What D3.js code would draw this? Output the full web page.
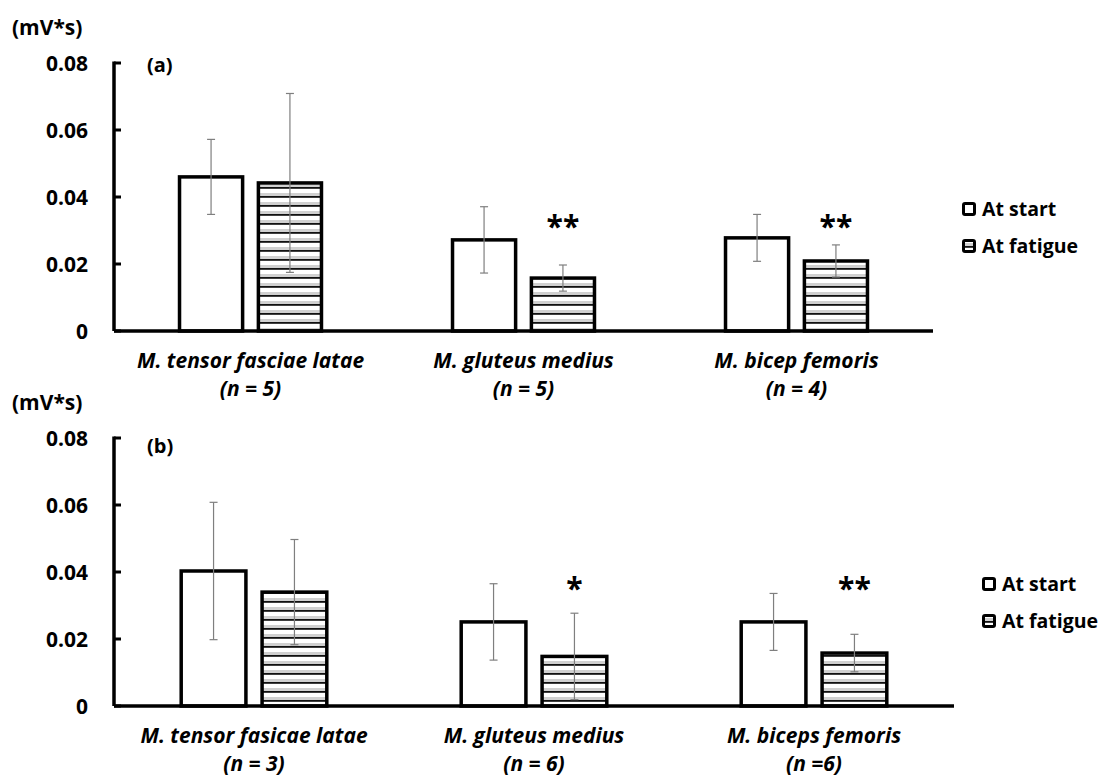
<!DOCTYPE html>
<html>
<head>
<meta charset="utf-8">
<script src="https://cdn.jsdelivr.net/npm/d3@7"></script>
<style>
  body { margin: 0; background: #fff; }
  svg text { font-family: "Open Sans", "Noto Sans", sans-serif; font-weight: bold; fill: #000; }
</style>
</head>
<body>
<div id="chart"></div>
<script>
// --- DATA ---
var seriesNames = ["At start", "At fatigue"];
var yTicks = [0, 0.02, 0.04, 0.06, 0.08];

// panel (a)
var categoriesA = ["M. tensor fasciae latae", "M. gluteus medius", "M. bicep femoris"];
var countsA = ["(n = 5)", "(n = 5)", "(n = 4)"];
var startA = [0.046, 0.0272, 0.0278];
var startSdA = [0.0112, 0.0099, 0.007];
var fatigueA = [0.0442, 0.0158, 0.0209];
var fatigueSdA = [0.0267, 0.0039, 0.0048];
var signifA = ["", "**", "**"];

// panel (b)
var categoriesB = ["M. tensor fasicae latae", "M. gluteus medius", "M. biceps femoris"];
var countsB = ["(n = 3)", "(n = 6)", "(n =6)"];
var startB = [0.0403, 0.0251, 0.0251];
var startSdB = [0.0205, 0.0114, 0.0085];
var fatigueB = [0.034, 0.0148, 0.0158];
var fatigueSdB = [0.0157, 0.0129, 0.0056];
var signifB = ["", "*", "**"];

// --- SETUP ---
var width = 1107, height = 778;
var svg = d3.select("#chart").append("svg")
  .attr("width", width)
  .attr("height", height);

// horizontal stripe pattern for the "fatigue" bars
var defs = svg.append("defs");
var pat = defs.append("pattern")
  .attr("id", "stripes")
  .attr("patternUnits", "userSpaceOnUse")
  .attr("width", 8).attr("height", 9);
pat.append("rect").attr("width", 8).attr("height", 9).attr("fill", "#fff");
pat.append("rect").attr("y", 4).attr("width", 8).attr("height", 3).attr("fill", "#d0d0d0");
pat.append("rect").attr("y", 7).attr("width", 8).attr("height", 1.8).attr("fill", "#111");

function drawPanel(opt) {
  var g = svg.append("g");

  var y = d3.scaleLinear().domain([0, 0.08]).range([opt.y0, opt.y1]);
  var x0 = d3.scaleBand().domain(opt.categories)
    .range([opt.xLeft, opt.xRight])
    .paddingInner(0.48).paddingOuter(0.24);
  var x1 = d3.scaleBand().domain(seriesNames)
    .range([0, x0.bandwidth()])
    .paddingInner(0.2);

  var rows = opt.categories.map(function(c, i) {
    return {
      cat: c, n: opt.counts[i], sig: opt.signif[i],
      vals: [
        { s: seriesNames[0], v: opt.start[i], sd: opt.startSd[i] },
        { s: seriesNames[1], v: opt.fatigue[i], sd: opt.fatigueSd[i] }
      ]
    };
  });

  // bars
  var groups = g.selectAll(".grp").data(rows).enter().append("g")
    .attr("class", "grp")
    .attr("transform", function(d) { return "translate(" + x0(d.cat) + ",0)"; });

  groups.selectAll("rect.bar").data(function(d) { return d.vals; }).enter().append("rect")
    .attr("class", "bar")
    .attr("x", function(d) { return x1(d.s); })
    .attr("y", function(d) { return y(d.v); })
    .attr("width", x1.bandwidth())
    .attr("height", function(d) { return y(0) - y(d.v); })
    .attr("fill", function(d, i) { return i === 0 ? "#fff" : "url(#stripes)"; })
    .attr("stroke", "#000")
    .attr("stroke-width", 3.5);

  // error bars
  var eb = groups.selectAll("g.err").data(function(d) { return d.vals; }).enter().append("g")
    .attr("class", "err")
    .attr("stroke", "#7f7f7f")
    .attr("stroke-width", 1.2);
  eb.append("line")
    .attr("x1", function(d) { return x1(d.s) + x1.bandwidth() / 2; })
    .attr("x2", function(d) { return x1(d.s) + x1.bandwidth() / 2; })
    .attr("y1", function(d) { return y(d.v + d.sd); })
    .attr("y2", function(d) { return y(d.v - d.sd); });
  [1, -1].forEach(function(sign) {
    eb.append("line")
      .attr("x1", function(d) { return x1(d.s) + x1.bandwidth() / 2 - 4; })
      .attr("x2", function(d) { return x1(d.s) + x1.bandwidth() / 2 + 4; })
      .attr("y1", function(d) { return y(d.v + sign * d.sd); })
      .attr("y2", function(d) { return y(d.v + sign * d.sd); });
  });

  // significance stars over the fatigue bar
  groups.append("text")
    .attr("x", x1(seriesNames[1]) + x1.bandwidth() / 2)
    .attr("y", y(opt.starLevel) + 17)
    .attr("text-anchor", "middle")
    .style("font-size", "30px")
    .text(function(d) { return d.sig; });

  // axes
  g.append("line")
    .attr("x1", opt.xLeft).attr("x2", opt.xRight)
    .attr("y1", y(0)).attr("y2", y(0))
    .attr("stroke", "#000").attr("stroke-width", 3.5);
  g.append("line")
    .attr("x1", opt.xLeft).attr("x2", opt.xLeft)
    .attr("y1", y(0)).attr("y2", y(0.08) - 1.5)
    .attr("stroke", "#000").attr("stroke-width", 3.5);

  g.selectAll(".tick").data(yTicks).enter().append("line")
    .attr("x1", opt.xLeft).attr("x2", opt.xLeft + 7)
    .attr("y1", function(d) { return y(d); })
    .attr("y2", function(d) { return y(d); })
    .attr("stroke", "#000").attr("stroke-width", 3);

  g.selectAll(".tlab").data(yTicks).enter().append("text")
    .attr("x", opt.xLeft - 26)
    .attr("y", function(d) { return y(d) + 7.5; })
    .attr("text-anchor", "end")
    .style("font-size", "21px")
    .text(function(d) { return d === 0 ? "0" : d3.format(".2f")(d); });

  // unit and panel labels
  g.append("text")
    .attr("x", 12).attr("y", y(0.08) - 28)
    .style("font-size", "21px")
    .text("(mV*s)");
  g.append("text")
    .attr("x", opt.xLeft + 33).attr("y", y(0.08) + opt.tagDy)
    .style("font-size", "20px")
    .text(opt.tag);

  // category labels
  var lab = g.selectAll(".clab").data(rows).enter().append("text")
    .attr("text-anchor", "middle")
    .style("font-size", "21px")
    .style("font-style", "italic")
    .attr("transform", function(d) { return "translate(" + (x0(d.cat) + x0.bandwidth() / 2) + "," + (y(0) + 37) + ")"; });
  lab.append("tspan").attr("x", 0).attr("y", 0).text(function(d) { return d.cat; });
  lab.append("tspan").attr("x", 0).attr("y", 28).text(function(d) { return d.n; });

  // legend
  var leg = g.selectAll(".leg").data(seriesNames).enter().append("g")
    .attr("transform", function(d, i) { return "translate(" + opt.legX + "," + (opt.legY + i * 37) + ")"; });
  leg.append("rect")
    .attr("x", 1.5).attr("y", 1.5).attr("width", 11).attr("height", 11)
    .attr("rx", 1.5)
    .attr("fill", function(d, i) { return i === 0 ? "#fff" : "url(#stripes)"; })
    .attr("stroke", "#000").attr("stroke-width", 3);
  leg.append("text")
    .attr("x", 20).attr("y", 14)
    .style("font-size", "19.5px")
    .text(function(d) { return d; });
}

drawPanel({
  categories: categoriesA, counts: countsA, signif: signifA,
  start: startA, startSd: startSdA, fatigue: fatigueA, fatigueSd: fatigueSdA,
  y0: 331, y1: 63, xLeft: 114, xRight: 933, starLevel: 0.0331,
  tag: "(a)", tagDy: 9, legX: 962, legY: 202
});

drawPanel({
  categories: categoriesB, counts: countsB, signif: signifB,
  start: startB, startSd: startSdB, fatigue: fatigueB, fatigueSd: fatigueSdB,
  y0: 706, y1: 438, xLeft: 114, xRight: 954, starLevel: 0.037,
  tag: "(b)", tagDy: 15, legX: 982, legY: 577
});
</script>
</body>
</html>
